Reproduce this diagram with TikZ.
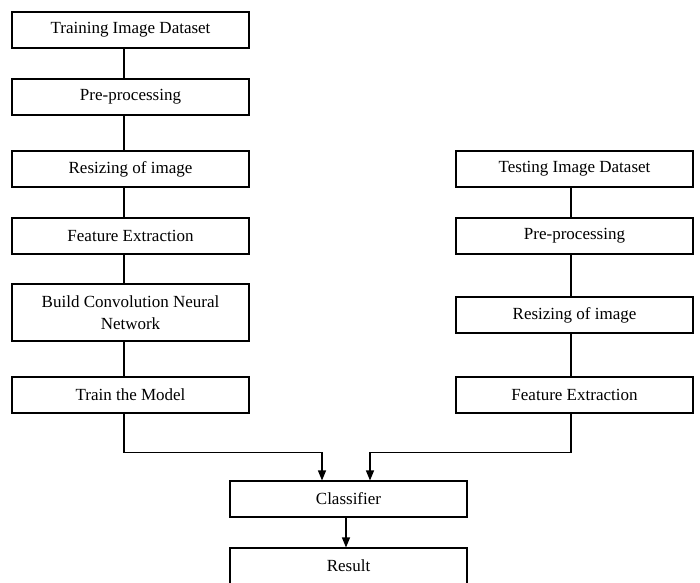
\documentclass[tikz,border=0pt]{standalone}
\usepackage{fontspec}
\setmainfont{Liberation Serif}
\usetikzlibrary{arrows.meta}

\begin{document}
\begin{tikzpicture}[x=1pt, y=-1pt, line width=1.1pt,
  box/.style={draw, rectangle, minimum width=237pt, minimum height=36pt, inner sep=2pt,
    align=center, font=\fontsize{17}{22}\selectfont},
  arr/.style={-{Triangle[width=8pt,length=10pt]}}]
  \useasboundingbox (0,0) rectangle (700,582);
  \clip (0,0) rectangle (700,582);
  \node[box] (tr1) at (130.5,30) {Training Image Dataset};
  \node[box] (tr2) at (130.5,97) {Pre-processing};
  \node[box] (tr3) at (130.5,169) {Resizing of image};
  \node[box] (tr4) at (130.5,236) {Feature Extraction};
  \node[box, minimum height=57pt] (tr5) at (130.5,312.5) {Build Convolution Neural\\Network};
  \node[box] (tr6) at (130.5,395) {Train the Model};
  \node[box] (ts1) at (574.5,169) {Testing Image Dataset};
  \node[box] (ts2) at (574.5,236) {Pre-processing};
  \node[box] (ts3) at (574.5,315) {Resizing of image};
  \node[box] (ts4) at (574.5,395) {Feature Extraction};
  \node[box] (cls) at (348.5,499) {Classifier};
  \node[box] (res) at (348.5,566) {Result};
  % Draw the two chains
  \foreach \a/\b in {tr1/tr2, tr2/tr3, tr3/tr4, tr4/tr5, tr5/tr6}
    \draw ([xshift=-6.5pt]\a.south) -- ([xshift=-6.5pt]\b.north);
  \foreach \a/\b in {ts1/ts2, ts2/ts3, ts3/ts4}
    \draw ([xshift=-3.5pt]\a.south) -- ([xshift=-3.5pt]\b.north);
  % Draw the joins to the classifier
  \draw[arr] ([xshift=-6.5pt]tr6.south) |- ++(198,39) -- ([xshift=-26.5pt]cls.north);
  \draw[arr] ([xshift=-3.5pt]ts4.south) |- ++(-201,39) -- ([xshift=21.5pt]cls.north);
  \draw[arr] ([xshift=-2.5pt]cls.south) -- ([xshift=-2.5pt]res.north);
\end{tikzpicture}
\end{document}
